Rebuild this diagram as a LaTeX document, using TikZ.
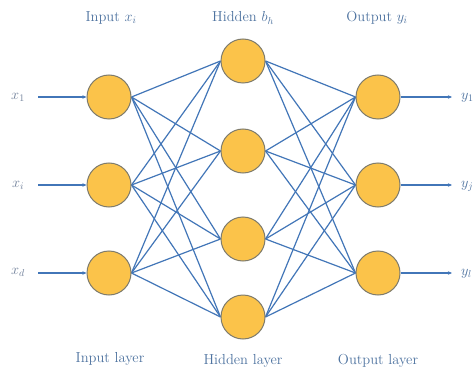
\documentclass[tikz,border=0pt]{standalone}
\usetikzlibrary{arrows.meta,backgrounds}
\definecolor{linkblue}{HTML}{4276B8}
\definecolor{labelblue}{HTML}{4E73A0}
\definecolor{neurofill}{HTML}{FBC34A}
\definecolor{neuroedge}{HTML}{7E7B6C}
\definecolor{sidegray}{HTML}{6F7F99}
\begin{document}
\begin{tikzpicture}[x=1pt,y=-1pt,
  neuron/.style={circle,draw=neuroedge,line width=1pt,fill=neurofill,minimum size=44pt,inner sep=0pt},
  link/.style={draw=linkblue,line width=1.2pt},
  feed/.style={draw=linkblue,line width=1.2pt,-{Stealth[length=4pt,width=3.5pt]}},
  caption/.style={text=labelblue,font=\fontsize{14.5}{16}\selectfont,inner sep=0pt},
  sidelabel/.style={text=sidegray,font=\fontsize{14.5}{16}\selectfont,inner sep=0pt}]
\useasboundingbox (0,0) rectangle (473,374);

% neurons
\node[neuron] (i1) at (109,97) {};
\node[neuron] (i2) at (109,185) {};
\node[neuron] (i3) at (109,273) {};
\node[neuron] (h1) at (243,61) {};
\node[neuron] (h2) at (243,151) {};
\node[neuron] (h3) at (243,239) {};
\node[neuron] (h4) at (243,317) {};
\node[neuron] (o1) at (378,97) {};
\node[neuron] (o2) at (378,185) {};
\node[neuron] (o3) at (378,273) {};

% full connections between layers, kept behind the neurons
\begin{scope}[on background layer]
\fill[white] (0,0) rectangle (473,374);
\foreach \a in {i1,i2,i3}
  \foreach \b in {h1,h2,h3,h4}
    \path[link] (\a.east) -- (\b.west);
\foreach \a in {h1,h2,h3,h4}
  \foreach \b in {o1,o2,o3}
    \path[link] (\a.east) -- (\b.west);
\end{scope}

% inputs
\node[sidelabel] (x1) at (18,97) {$x_1$};
\node[sidelabel] (x2) at (18,185) {$x_i$};
\node[sidelabel] (x3) at (18,272) {$x_d$};
\coordinate (a1) at (38,97);
\coordinate (a2) at (38,185);
\coordinate (a3) at (38,273);
\path[feed] (a1) -- (i1.west);
\path[feed] (a2) -- (i2.west);
\path[feed] (a3) -- (i3.west);

% outputs
\coordinate (b1) at (452,97);
\coordinate (b2) at (452,185);
\coordinate (b3) at (452,273);
\path[feed] (o1.east) -- (b1);
\path[feed] (o2.east) -- (b2);
\path[feed] (o3.east) -- (b3);
\node[caption,anchor=west] (y1) at (461,98) {$y_1$};
\node[caption,anchor=west] (y2) at (461,186) {$y_j$};
\node[caption,anchor=west] (y3) at (461,274) {$y_l$};

% layer headings
\node[caption] (t1) at (111,18) {Input $x_i$};
\node[caption] (t2) at (243,18) {Hidden $b_h$};
\node[caption] (t3) at (377,18) {Output $y_i$};
\node[caption] (l1) at (110,359) {Input layer};
\node[caption] (l2) at (243,361) {Hidden layer};
\node[caption] (l3) at (378,361) {Output layer};
\end{tikzpicture}
\end{document}
